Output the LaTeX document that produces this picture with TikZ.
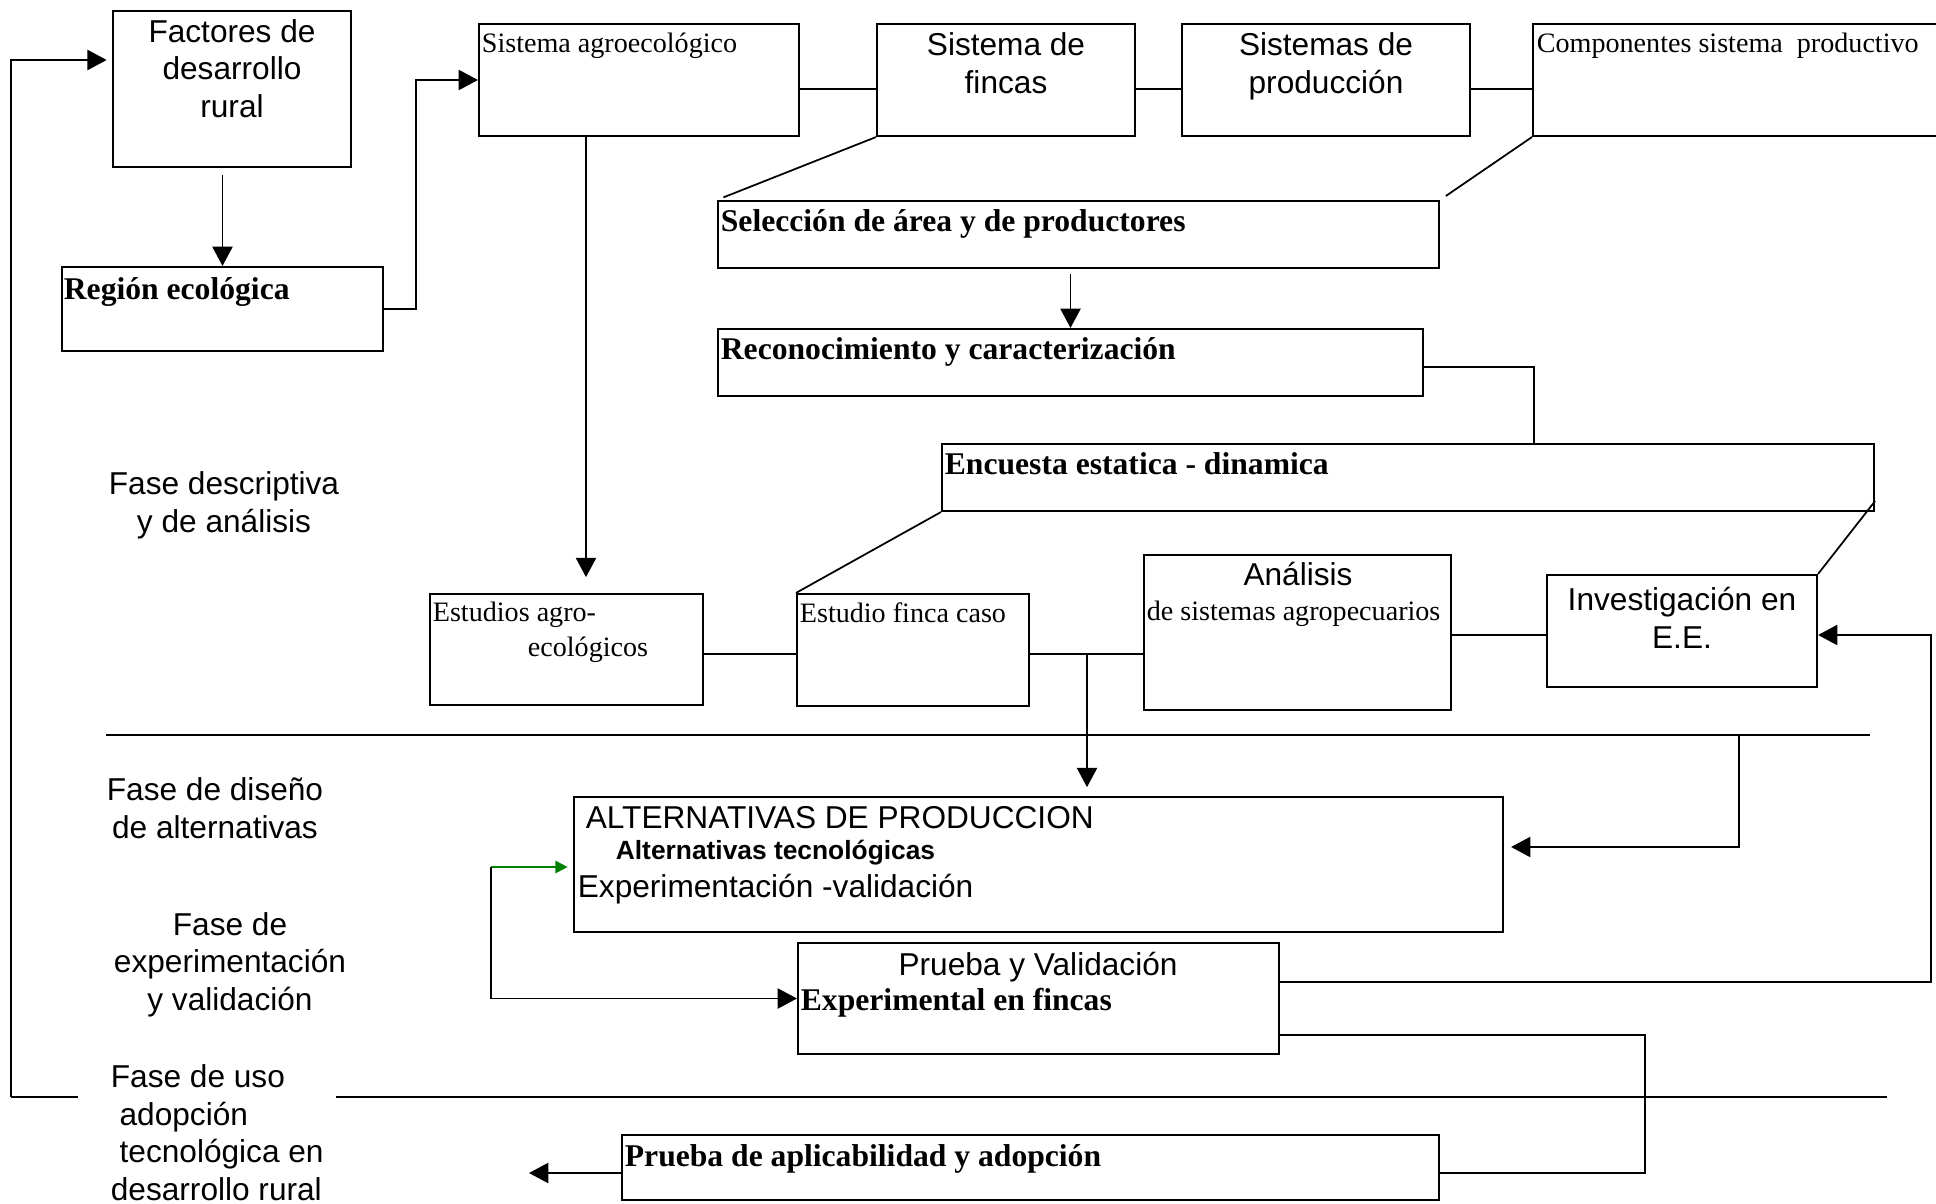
\documentclass[tikz,border=0pt]{standalone}
\usepackage{fontspec}
\setmainfont{Liberation Serif}
\setsansfont{Liberation Sans}
\usetikzlibrary{arrows.meta,fit}

\begin{document}
\begin{tikzpicture}[x=0.02cm,y=-0.02cm,line width=1pt,>={Triangle[length=11pt,width=11.5pt]},
	box/.style={draw,inner sep=0pt,line width=1.2pt},
	arial/.style={font=\sffamily\fontsize{18}{21.3}\selectfont,inner sep=0pt},
	arialb/.style={font=\sffamily\bfseries\fontsize{15}{18}\selectfont,inner sep=0pt},
	tnr/.style={font=\fontsize{16}{19}\selectfont,inner sep=0pt},
	tnrb/.style={font=\bfseries\fontsize{18}{21.5}\selectfont,inner sep=0pt},
	green arrow/.style={-{Triangle[length=7pt,width=7pt]},green!50!black}]
\useasboundingbox (0,0) rectangle (1936,1203);
\clip (0,0) rectangle (1936,1203);

% cajas
\node[box,fit={(113,11) (351,167)}] (fact) {};
\node[box,fit={(62,267) (383,351)}] (region) {};
\node[box,fit={(479,24) (799,136)}] (agro) {};
\node[box,fit={(877,24) (1135,136)}] (fincas) {};
\node[box,fit={(1182,24) (1470,136)}] (prod) {};
\node[box,fit={(1533,24) (1960,136)}] (comp) {};
\node[box,fit={(718,201) (1439,268)}] (sel) {};
\node[box,fit={(718,329) (1423,396)}] (recon) {};
\node[box,fit={(942,444) (1874,511)}] (enc) {};
\node[box,fit={(430,594) (703,705)}] (eagro) {};
\node[box,fit={(797,594) (1029,706)}] (efinca) {};
\node[box,fit={(1144,555) (1451,710)}] (anal) {};
\node[box,fit={(1547,575) (1817,687)}] (inv) {};
\node[box,fit={(574,797) (1503,932)}] (alt) {};
\node[box,fit={(798,943) (1279,1054)}] (prueba) {};
\node[box,fit={(622,1135) (1439,1200)}] (aplic) {};

% textos (en los de varias lineas, la base es la de la ultima linea)
\node[arial,align=center,anchor=base] (fact-t) at (232,117) {Factores de\\desarrollo\\rural};
\node[tnrb,anchor=base west] (region-t) at (63,299) {Región ecológica};
\node[tnr,anchor=base west] (agro-t) at (481,53) {Sistema agroecológico};
\node[arial,align=center,anchor=base] (fincas-t) at (1006,93) {Sistema de\\fincas};
\node[arial,align=center,anchor=base] (prod-t) at (1326,93) {Sistemas de\\producción};
\node[tnr,anchor=base west] (comp-t) at (1536,53) {Componentes sistema\ \ productivo};
\node[tnrb,anchor=base west] (sel-t) at (720,231) {Selección de área y de productores};
\node[tnrb,anchor=base west] (recon-t) at (720,359) {Reconocimiento y caracterización};
\node[tnrb,anchor=base west] (enc-t) at (944,474) {Encuesta estatica - dinamica};
\node[tnr,anchor=base west] (eagro-t1) at (432,621) {Estudios agro-};
\node[tnr,anchor=base west] (eagro-t2) at (527,656) {ecológicos};
\node[tnr,anchor=base west] (efinca-t) at (799,622) {Estudio finca caso};
\node[arial,anchor=base] (anal-t1) at (1298,585) {Análisis};
\node[tnr,anchor=base west] (anal-t2) at (1146,620) {de sistemas agropecuarios};
\node[arial,align=center,anchor=base] (inv-t) at (1682,648) {Investigación en\\E.E.};
\node[arial,anchor=base west] (alt-t1) at (585,828) {ALTERNATIVAS DE PRODUCCION};
\node[arialb,anchor=base west] (alt-t2) at (615,859) {Alternativas tecnológicas};
\node[arial,anchor=base west] (alt-t3) at (577,897) {Experimentación -validación};
\node[arial,anchor=base] (prueba-t1) at (1038,975) {Prueba y Validación};
\node[tnrb,anchor=base west] (prueba-t2) at (800,1010) {Experimental en fincas};
\node[tnrb,anchor=base west] (aplic-t) at (624,1166) {Prueba de aplicabilidad y adopción};

% fases
\node[arial,align=center,anchor=base] (fase1) at (224,532) {Fase descriptiva\\y de análisis};
\node[arial,align=center,anchor=base] (fase2) at (215,838) {Fase de diseño\\de alternativas};
\node[arial,align=center,anchor=base] (fase3) at (230,1010) {Fase de\\experimentación\\y validación};
\node[arial,align=left,anchor=base west] (fase4) at (110,1200) {Fase de uso\\\hspace*{5pt}adopción\\\hspace*{5pt}tecnológica en\\desarrollo rural};

% puntos auxiliares
\coordinate (rowA) at (0,89);
\coordinate (rowB) at (0,654);
\coordinate (rowC) at (0,635);
\coordinate (rowD) at (0,847);
\coordinate (rowE) at (0,982);
\coordinate (rowF) at (0,1035);
\coordinate (rowG) at (0,1173);
\coordinate (rowH) at (0,60);
\coordinate (rowI) at (0,367);
\coordinate (kA) at (586,0);
\coordinate (kB) at (1534,0);
\coordinate (kC) at (1739,735);
\coordinate (kD) at (1931,0);
\coordinate (kE) at (1645,0);
\coordinate (kF) at (491,867);
\coordinate (jn) at (1087,654);
\coordinate (out) at (529,1173);
\coordinate (sepA-l) at (106,735);
\coordinate (sepA-r) at (1870,735);
\coordinate (sepB-l) at (11,1097);
\coordinate (sepB-m1) at (78,1097);
\coordinate (sepB-m2) at (336,1097);
\coordinate (sepB-r) at (1887,1097);

% conectores
\draw[->,shorten <=4pt] (region.north |- fact.south) -- (region.north);
\draw[->] (region.east) -- ++(32,0) |- (agro.west);
\draw (agro.east |- rowA) -- (fincas.west |- rowA);
\draw (fincas.east |- rowA) -- (prod.west |- rowA);
\draw (prod.east |- rowA) -- (comp.west |- rowA);
\draw[shorten >=4pt] (fincas.south west) -- (sel.north west);
\draw[shorten >=4pt] (comp.south west) -- (sel.north east);
\draw[->,shorten >=9pt] (agro.south -| kA) -- (eagro.north -| kA);
\draw[->,shorten <=3pt] (recon.north |- sel.south) -- (recon.north);
\draw (recon.east |- rowI) -| (enc.north -| kB);
\draw (enc.south west) -- (efinca.north west);
\draw ([yshift=0.22cm]enc.south east) -- (inv.north east);
\draw (eagro.east |- rowB) -- (efinca.west |- rowB);
\draw (efinca.east |- rowB) -- (anal.west |- rowB);
\draw (anal.east |- rowC) -- (inv.west |- rowC);
\draw[->,shorten >=5pt] (jn) -- (jn |- alt.north);
\draw[->,shorten >=4pt] (kC) |- (alt.east |- rowD);
\draw[->] (prueba.east |- rowE) -| (kD |- rowC) -- (inv.east |- rowC);
\draw (prueba.east |- rowF) -| (kE |- rowG) -- (aplic.east |- rowG);
\draw[->] (aplic.west |- rowG) -- (out);
\draw[green arrow,shorten >=3pt] (kF) -- (alt.west |- kF);
\draw[->] (kF) |- (prueba.west);
\draw[->,shorten >=3pt] (sepB-l) |- (fact.west |- rowH);

% separadores
\draw (sepA-l) -- (sepA-r);
\draw (sepB-l) -- (sepB-m1);
\draw (sepB-m2) -- (sepB-r);
\end{tikzpicture}
\end{document}
